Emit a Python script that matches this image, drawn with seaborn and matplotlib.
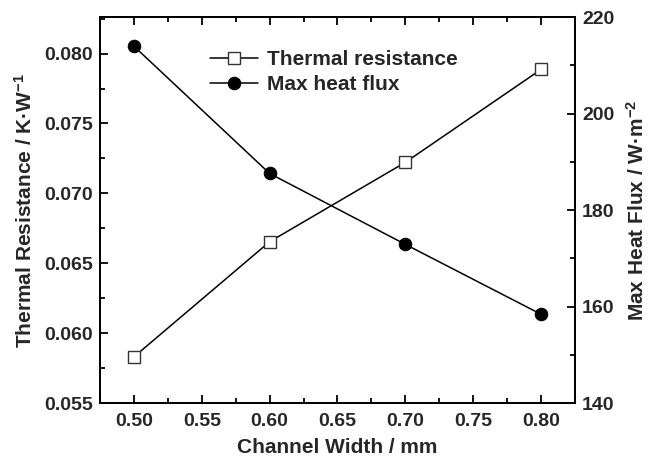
import matplotlib
matplotlib.use("Agg")
import matplotlib.pyplot as plt
import seaborn as sns
import numpy as np

# Data
channel_width = [0.50, 0.60, 0.70, 0.80]
thermal_resistance = [0.0583, 0.06654, 0.07222, 0.07887]
max_heat_flux = [214.0, 187.6, 172.9, 158.4]
left_ticks = [0.055, 0.060, 0.065, 0.070, 0.075, 0.080]
right_ticks = [140, 160, 180, 200, 220]
x_ticks = [0.50, 0.55, 0.60, 0.65, 0.70, 0.75, 0.80]

sns.set_theme(style="ticks")
plt.rcParams['font.family'] = ['Liberation Sans', 'DejaVu Sans']
plt.rcParams['font.weight'] = 'bold'
plt.rcParams['mathtext.fontset'] = 'custom'
plt.rcParams['mathtext.rm'] = 'Liberation Sans:bold'
plt.rcParams['mathtext.bf'] = 'Liberation Sans:bold'
plt.rcParams['mathtext.default'] = 'bf'

fig = plt.figure(figsize=(6.54, 4.62), dpi=100)
ax = fig.add_axes([0.1529, 0.1277, 0.7263, 0.8349])
ax2 = ax.twinx()

sns.lineplot(x=channel_width, y=thermal_resistance, ax=ax, color='black', lw=1.1,
             marker='s', markersize=8, markerfacecolor='white', markeredgecolor='#333333',
             markeredgewidth=1.0, label='Thermal resistance', legend=False)
sns.lineplot(x=channel_width, y=max_heat_flux, ax=ax2, color='black', lw=1.1,
             marker='o', markersize=9, markerfacecolor='black', markeredgecolor='black',
             label='Max heat flux', legend=False)

ax.set_xlim(0.475, 0.825)
ax.set_ylim(0.055, 0.0826)
ax2.set_ylim(140, 220)
ax.set_xticks(x_ticks)
ax.set_xticklabels([f"{v:.2f}" for v in x_ticks])
ax.set_yticks(left_ticks)
ax.set_yticklabels([f"{v:.3f}" for v in left_ticks])
ax2.set_yticks(right_ticks)
ax2.set_yticklabels([str(v) for v in right_ticks])

from matplotlib.ticker import AutoMinorLocator
ax.xaxis.set_minor_locator(AutoMinorLocator(2))
ax.yaxis.set_minor_locator(AutoMinorLocator(2))
ax2.yaxis.set_minor_locator(AutoMinorLocator(2))

for a in (ax, ax2):
    for s in a.spines.values():
        s.set_visible(True)
        s.set_linewidth(1.3)
        s.set_color('black')

ax.tick_params(axis='x', which='both', direction='in', top=True, bottom=True, labelsize=14, pad=7)
ax.tick_params(axis='y', which='both', direction='in', left=True, right=False, labelsize=14, pad=5)
ax.tick_params(which='major', length=6, width=1.3, color='black')
ax.tick_params(which='minor', length=3.5, width=1.3, color='black')
ax2.tick_params(axis='y', which='both', direction='in', right=True, left=False, labelsize=14, pad=5)
ax2.tick_params(which='major', length=6, width=1.3, color='black')
ax2.tick_params(which='minor', length=3.5, width=1.3, color='black')

for lab in ax.get_xticklabels() + ax.get_yticklabels() + ax2.get_yticklabels():
    lab.set_fontweight('bold')

ax.set_xlabel("Channel Width / mm", fontsize=15, fontweight='bold', labelpad=6)
ax.set_ylabel(r"Thermal Resistance / K·W$^{-1}$", fontsize=15, fontweight='bold', labelpad=6)
ax2.set_ylabel(r"Max Heat Flux / W·m$^{-2}$", fontsize=15, fontweight='bold', labelpad=8)

handles = [ax.get_lines()[0], ax2.get_lines()[0]]
labels = ['Thermal resistance', 'Max heat flux']
ax.legend(handles, labels, loc='upper left', bbox_to_anchor=(0.215, 0.937), borderaxespad=0,
          frameon=False, numpoints=1, handlelength=2.3, handletextpad=0.4, labelspacing=0.3,
          prop={'size': 15, 'weight': 'bold'})

fig.savefig("out.png", dpi=100)
